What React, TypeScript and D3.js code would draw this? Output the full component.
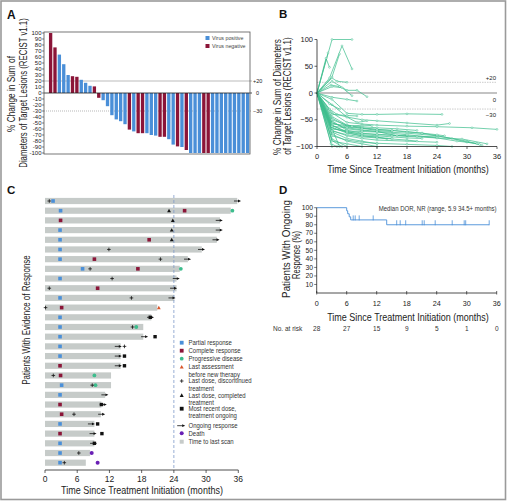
import React from "react";
import * as d3 from "d3";

const FONT = "'Liberation Sans', Arial, sans-serif";
const BLUE = "#4a8fd8";
const RED = "#8b1538";
const GREEN = "#3dbd8d";
const ORANGE = "#d9572b";
const PURPLE = "#6a1fb5";
const BARGRAY = "#c6cbc9";
const TXT = "#222";

// ---------- Panel A: waterfall ----------
const waterfallValues = [100, 76, 64, 48, 30, 28, 27, 22, 17, 12, 11, -8, -12, -22, -37, -44, -47, -52, -61, -64, -67, -67, -67, -70, -71, -73, -73, -77, -86, -89, -90, -95, -100, -100, -100, -100, -100, -100, -100, -100, -100, -100, -100, -100, -100, -100];
const waterfallVirus = ["n", "n", "p", "p", "p", "n", "n", "p", "p", "p", "n", "n", "p", "p", "p", "p", "p", "p", "n", "p", "n", "n", "p", "p", "p", "n", "n", "p", "p", "n", "p", "n", "p", "p", "p", "n", "n", "p", "p", "p", "p", "p", "p", "p", "p", "p"];
const waterfallTicks = d3.range(-100, 101, 10);

// ---------- Panel B: spider plot ----------
const spiderLines: [number, number][][] = [
  [[0, 0], [3, 100], [7, 100]],
  [[0, 0], [2.5, 28], [5, 88], [7, 45]],
  [[0, 0], [2.2, 75]],
  [[0, 0], [1.8, 65], [2.5, 48]],
  [[0, 0], [3, 30], [4.5, 73]],
  [[0, 0], [3, 28], [4, 22], [6, 20]],
  [[0, 0], [3, 22], [6, 5], [8, 5], [10, -7]],
  [[0, 0], [2.8, 15], [4.5, 12]],
  [[0, 0], [3, 12], [5, 10], [7, -5]],
  [[0, 0], [3, -8], [6, -12], [8, -15]],
  [[0, 0], [3, -12], [6, -38], [9, -40], [12, -40], [18, -39], [25, -40]],
  [[0, 0], [3, -22], [6, -45], [9, -50], [12, -52], [18, -56], [24, -60], [26.5, -57]],
  [[0, 0], [3, -37], [6, -55], [9, -58], [12, -60], [18, -62], [24, -63], [31, -65], [36, -68]],
  [[0, 0], [3, -44], [6, -60], [9, -63], [12, -65], [16, -67], [20, -70]],
  [[0, 0], [3, -47], [6, -62], [9, -66], [12, -70], [15, -72]],
  [[0, 0], [3, -52], [6, -70], [9, -75], [12, -78], [18, -80], [24, -82]],
  [[0, 0], [3, -61], [6, -72], [9, -78], [12, -80], [15, -82], [18, -84], [21, -85]],
  [[0, 0], [3, -64], [6, -75], [9, -80], [12, -82], [14, -86]],
  [[0, 0], [3, -55], [6, -67], [9, -70], [12, -72], [18, -75], [24, -80], [30, -90], [33, -98]],
  [[0, 0], [3, -50], [6, -60], [9, -65], [12, -68], [15, -70], [18, -72], [21, -75], [24, -80], [27, -85], [30, -92], [32.5, -96]],
  [[0, 0], [3, -70], [6, -80], [9, -85], [12, -88], [18, -90], [24, -92]],
  [[0, 0], [3, -73], [6, -85], [9, -90], [12, -95]],
  [[0, 0], [3, -60], [6, -74], [9, -80], [12, -83], [15, -86], [18, -88], [20, -90]],
  [[0, 0], [3, -77], [6, -90], [9, -95], [12, -100]],
  [[0, 0], [3, -86], [6, -100]],
  [[0, 0], [3, -89], [5, -100]],
  [[0, 0], [3, -90], [6, -95], [9, -100]],
  [[0, 0], [3, -100]],
  [[0, 0], [4.5, -100]],
  [[0, 0], [3, -80], [6, -88], [9, -92], [12, -94], [18, -96], [24, -98], [27, -100]],
  [[0, 0], [3, -56], [6, -64], [9, -66], [12, -68], [15, -70], [18, -73], [21, -75], [24, -78], [25.5, -80]],
  [[0, 0], [3, -58], [5, -60], [7, -62], [9, -60], [11, -61]],
  [[0, 0], [2.5, -30], [4, -40], [6, -45], [8, -55], [10, -52]],
  [[0, 0], [3, -66], [6, -73], [9, -76], [12, -77], [15, -79], [18, -80]],
  [[0, 0], [3, -67], [6, -71], [9, -72], [12, -73], [18, -78], [24, -84], [28, -90], [32, -94]],
  [[0, 0], [3, -71], [6, -78], [9, -82], [12, -84], [15, -85]],
  [[0, 0], [2.8, -95], [4, -100]],
  [[0, 0], [3, -40], [6, -42], [8, -43]],
  [[0, 0], [3, -62], [6, -65], [9, -69], [12, -72], [16, -80], [20, -82], [24, -84], [29, -86], [34, -95]],
  [[0, 0], [2.5, -20], [4.5, -30]],
];
const spiderYTicks = [100, 50, 0, -50, -100];
const monthTicks = [0, 6, 12, 18, 24, 30, 36];

// ---------- Panel C: swimmer plot ----------
const swimEnd = [35.8, 34.6, 32.6, 32.6, 32.0, 29.2, 26.6, 25.1, 24.5, 24.5, 24.1, 20.9, 19.8, 18.3, 18.3, 14.1, 14.1, 14.1, 12.3, 12.3, 11.2, 10.5, 10.4, 9.2, 9.2, 9.2, 8.4, 7.6];
const partialResponse: [number, number][] = [[1, 1.5], [2, 2.9], [4, 2.8], [5, 2.8], [6, 2.8], [7, 2.8], [8, 7.0], [9, 2.8], [11, 2.8], [13, 2.8], [14, 2.8], [15, 2.8], [16, 2.8], [17, 2.8], [20, 3.1], [21, 2.8], [24, 2.8], [26, 2.8], [27, 2.8], [28, 2.8]];
const completeResponse: [number, number][] = [[2, 26.0], [3, 2.9], [5, 19.4], [7, 9.2], [8, 17.3], [10, 9.8], [12, 3.1], [18, 2.8], [19, 2.9], [22, 2.8], [23, 3.1], [25, 2.8]];
const progressiveDisease: [number, number][] = [[2, 34.9], [8, 25.3], [14, 17.0], [19, 9.2], [20, 9.4]];
const lastAssessment: [number, number][] = [[12, 21.2]];
const lastDoseDiscontinued: [number, number][] = [[1, 0.8], [6, 11.9], [7, 21.5], [8, 8.4], [9, 12.5], [10, 0.8], [11, 16.1], [12, 0.1], [14, 16.3], [16, 14.8], [19, 1.55], [20, 8.8], [23, 5.4], [27, 6.3], [28, 3.6]];
const lastDoseCompleted: [number, number][] = [[2, 23.1], [3, 23.8], [4, 23.6], [5, 23.6]];
const mostRecentDose: [number, number][] = [[13, 19.6], [15, 20.5], [17, 14.8], [18, 14.8], [22, 10.5], [24, 9.8], [25, 10.6], [26, 9.2]];
const ongoingResponse: [number, number][] = [[1, 36.5], [3, 33.1], [4, 33.1], [5, 32.5], [6, 29.8], [7, 27.2], [9, 25.1], [10, 24.6], [11, 24.3], [13, 20.3], [15, 19.2], [16, 14.3], [17, 14.3], [18, 14.3], [21, 11.8], [22, 11.5], [23, 11.2], [24, 9.3], [25, 9.6], [26, 9.7]];
const deaths: [number, number][] = [[27, 8.7], [28, 9.8]];

// ---------- Panel D: Kaplan-Meier ----------
const kmTimes = [0, 6.0, 6.2, 6.5, 6.8, 14.0, 34.5];
const kmSurv = [100, 96.4, 92.9, 89.3, 85.7, 80.0, 80.0];
const kmCensorTimes = [7.3, 7.7, 8.5, 11.3, 16.0, 16.7, 17.8, 21.1, 21.5, 23.7, 27.1, 29.5, 29.8, 34.5];
const kmYTicks = [10, 20, 30, 40, 50, 60, 70, 80, 90, 100];
const atRisk = [28, 27, 15, 9, 5, 1, 0];

let measureCtx: CanvasRenderingContext2D | null = null;
function textWidth(s: string, size: number): number {
  if (!measureCtx) measureCtx = document.createElement("canvas").getContext("2d");
  if (!measureCtx) return s.length * size * 0.5;
  measureCtx.font = `${size}px "Liberation Sans", Arial, sans-serif`;
  return measureCtx.measureText(s).width;
}

function FitText({ x, y, rot = 0, width, size, anchor = "middle", fill = TXT, text }: { x: number; y: number; rot?: number; width: number; size: number; anchor?: string; fill?: string; text: string }) {
  const sx = Math.min(1, width / textWidth(text, size));
  return (
    <text transform={`translate(${x},${y}) rotate(${rot}) scale(${sx.toFixed(3)},1)`} fontSize={size} textAnchor={anchor as any} fill={fill}>
      {text}
    </text>
  );
}

function Plus({ x, y }: { x: number; y: number }) {
  return (
    <g stroke="#111" strokeWidth={0.8}>
      <line x1={x - 1.8} x2={x + 1.8} y1={y} y2={y} />
      <line x1={x} x2={x} y1={y - 1.8} y2={y + 1.8} />
    </g>
  );
}
function Tri({ x, y, fill, s = 2.2 }: { x: number; y: number; fill: string; s?: number }) {
  return <path d={`M${x},${y - s}L${x + s},${y + s * 0.8}L${x - s},${y + s * 0.8}Z`} fill={fill} />;
}
function Sq({ x, y, fill, s = 3.6 }: { x: number; y: number; fill: string; s?: number }) {
  return <rect x={x - s / 2} y={y - s / 2} width={s} height={s} fill={fill} />;
}
function Arrow({ x, y, len = 7 }: { x: number; y: number; len?: number }) {
  return (
    <g>
      <line x1={x - len} x2={x - 2.5} y1={y} y2={y} stroke="#111" strokeWidth={0.8} />
      <path d={`M${x},${y}L${x - 3},${y - 1.4}L${x - 3},${y + 1.4}Z`} fill="#111" />
    </g>
  );
}

export default function App() {
  const xA = d3.scaleBand<number>().domain(d3.range(waterfallValues.length)).range([48.6, 249.6]).paddingInner(0.24).paddingOuter(0.08);
  const yA = d3.scaleLinear().domain([-100, 100]).range([153, 33]);

  const xB = d3.scaleLinear().domain([0, 36]).range([317, 497]);
  const yB = d3.scaleLinear().domain([-100, 100]).range([146.5, 39.5]);
  const lineB = d3.line<[number, number]>().x((d) => xB(d[0])).y((d) => yB(d[1]));

  const xC = d3.scaleLinear().domain([0, 36]).range([45, 238.3]);
  const yC = d3.scalePoint<number>().domain(d3.range(1, 29)).range([201, 462.7]);
  const barH = 6.2;

  const xD = d3.scaleLinear().domain([0, 36]).range([316.7, 496.7]);
  const yD = d3.scaleLinear().domain([0, 100]).range([293, 207.7]);
  const kmPts: [number, number][] = kmTimes.map((t, i) => [t, kmSurv[i]]);
  const kmLine = d3.line<[number, number]>().x((d) => xD(d[0])).y((d) => yD(d[1])).curve(d3.curveStepAfter);
  const survAt = (t: number) => {
    let s = kmSurv[0];
    kmTimes.forEach((tt, i) => { if (tt <= t) s = kmSurv[i]; });
    return s;
  };

  const legendC: { label: string[]; y: number; kind: string }[] = [
    { label: ["Partial response"], y: 342.7, kind: "pr" },
    { label: ["Complete response"], y: 350.7, kind: "cr" },
    { label: ["Progressive disease"], y: 358.7, kind: "pd" },
    { label: ["Last assessment", "before new therapy"], y: 367, kind: "la" },
    { label: ["Last dose, discontinued", "treatment"], y: 381, kind: "ld" },
    { label: ["Last dose, completed", "treatment"], y: 395.3, kind: "lc" },
    { label: ["Most recent dose,", "treatment ongoing"], y: 408.7, kind: "mr" },
    { label: ["Ongoing  response"], y: 425.7, kind: "or" },
    { label: ["Death"], y: 433.3, kind: "de" },
    { label: ["Time to last scan"], y: 441.7, kind: "ts" },
  ];
  const legendSymbol = (kind: string, x: number, y: number) => {
    switch (kind) {
      case "pr": return <Sq x={x} y={y} fill={BLUE} s={3.8} />;
      case "cr": return <Sq x={x} y={y} fill={RED} s={3.8} />;
      case "pd": return <circle cx={x} cy={y} r={1.9} fill={GREEN} />;
      case "la": return <Tri x={x} y={y} fill={ORANGE} s={2} />;
      case "ld": return <Plus x={x} y={y} />;
      case "lc": return <Tri x={x} y={y} fill="#111" s={2} />;
      case "mr": return <Sq x={x} y={y} fill="#111" s={3.8} />;
      case "or": return <Arrow x={x + 3.5} y={y} len={8} />;
      case "de": return <circle cx={x} cy={y} r={2} fill={PURPLE} />;
      default: return <Sq x={x} y={y} fill={BARGRAY} s={4} />;
    }
  };

  return (
    <div style={{ position: "absolute", left: 0, top: 0 }}>
      <svg width={507} height={503} style={{ display: "block", background: "#fff" }} fontFamily={FONT}>
        <rect x={1} y={1} width={504.5} height={498.5} fill="none" stroke="#9a9a9a" strokeWidth={1.6} />

        <text x={7} y={18.5} fontWeight="bold" fontSize={12} fill="#111">A</text>
        <text x={279} y={17.5} fontWeight="bold" fontSize={11.5} fill="#111">B</text>
        <text x={7} y={193.5} fontWeight="bold" fontSize={11.5} fill="#111">C</text>
        <text x={279} y={194} fontWeight="bold" fontSize={11.5} fill="#111">D</text>

        {/* ===== Panel A ===== */}
        <g>
          <line x1={44} x2={252} y1={yA(20)} y2={yA(20)} stroke="#aaa" strokeWidth={0.8} />
          <line x1={44} x2={252} y1={yA(-30)} y2={yA(-30)} stroke="#999" strokeWidth={0.7} strokeDasharray="1,1" />
          {waterfallValues.map((v, i) => (
            <rect key={i} x={xA(i)} width={xA.bandwidth()} y={yA(Math.max(0, v))} height={Math.abs(yA(v) - yA(0))} fill={waterfallVirus[i] === "p" ? BLUE : RED} />
          ))}
          <line x1={44} x2={252} y1={yA(0)} y2={yA(0)} stroke="#222" strokeWidth={0.8} />
          <rect x={44} y={32} width={206} height={122} fill="none" stroke="#555" strokeWidth={0.8} />
          {waterfallTicks.map((t) => (
            <g key={t}>
              <line x1={42} x2={44} y1={yA(t)} y2={yA(t)} stroke="#333" strokeWidth={0.6} />
              <text x={41.5} y={yA(t) + 2} fontSize={6} textAnchor="end" fill={TXT}>{t}</text>
            </g>
          ))}
          <text x={253} y={yA(20) + 2} fontSize={5.5} fill={TXT}>+20</text>
          <text x={256} y={yA(0) + 2} fontSize={5.5} fill={TXT}>0</text>
          <text x={253} y={yA(-30) + 2} fontSize={5.5} fill={TXT}>−30</text>
          <rect x={205.5} y={36} width={4} height={4} fill={BLUE} />
          <text x={212} y={40} fontSize={5.3} fill="#444">Virus positive</text>
          <rect x={205.5} y={44} width={4} height={4} fill={RED} />
          <text x={212} y={48} fontSize={5.3} fill="#444">Virus negative</text>
          <FitText x={14.5} y={94} rot={-90} size={10} width={76} text="% Change in Sum of" />
          <FitText x={27} y={93} rot={-90} size={10} width={150} text="Diameters of Target Lesions (RECIST v1.1)" />
        </g>

        {/* ===== Panel B ===== */}
        <g>
          <line x1={xB(0)} x2={xB(36)} y1={yB(20)} y2={yB(20)} stroke="#aaa" strokeWidth={0.6} strokeDasharray="1.5,1" />
          <line x1={xB(0)} x2={xB(36)} y1={yB(-30)} y2={yB(-30)} stroke="#aaa" strokeWidth={0.6} strokeDasharray="1.5,1" />
          <line x1={xB(0)} x2={xB(36)} y1={yB(0)} y2={yB(0)} stroke="#555" strokeWidth={0.7} />
          {spiderLines.map((pts, i) => (
            <g key={i}>
              <path d={lineB(pts) || ""} fill="none" stroke={GREEN} strokeWidth={0.8} opacity={0.9} />
              {pts.slice(1).map((p, j) => (
                <circle key={j} cx={xB(p[0])} cy={yB(p[1])} r={0.9} fill="#fff" stroke={GREEN} strokeWidth={0.5} />
              ))}
            </g>
          ))}
          <line x1={xB(0)} x2={xB(0)} y1={yB(100)} y2={yB(-100)} stroke="#222" strokeWidth={0.8} />
          <line x1={xB(0)} x2={xB(36)} y1={yB(-100)} y2={yB(-100)} stroke="#222" strokeWidth={0.8} />
          {spiderYTicks.map((t) => (
            <g key={t}>
              <line x1={xB(0) - 2.5} x2={xB(0)} y1={yB(t)} y2={yB(t)} stroke="#222" strokeWidth={0.7} />
              <text x={xB(0) - 4} y={yB(t) + 2.5} fontSize={7.5} textAnchor="end" fill={TXT}>{t < 0 ? `−${-t}` : t}</text>
            </g>
          ))}
          {monthTicks.map((t) => (
            <g key={t}>
              <line x1={xB(t)} x2={xB(t)} y1={yB(-100)} y2={yB(-100) + 2.5} stroke="#222" strokeWidth={0.7} />
              <text x={xB(t)} y={158.5} fontSize={7.5} textAnchor="middle" fill={TXT}>{t}</text>
            </g>
          ))}
          <text x={496} y={80} fontSize={6} textAnchor="end" fill={TXT}>+20</text>
          <text x={496} y={101.5} fontSize={6} textAnchor="end" fill={TXT}>0</text>
          <text x={496} y={117} fontSize={6} textAnchor="end" fill={TXT}>−30</text>
          <FitText x={408} y={172.5} size={10.5} width={162} text="Time Since Treatment Initiation (months)" />
          <FitText x={280.5} y={97} rot={-90} size={10} width={116} text="% Change in Sum of Diameters" />
          <FitText x={291} y={96} rot={-90} size={10} width={118} text="of Target Lesions (RECIST v1.1)" />
        </g>

        {/* ===== Panel C ===== */}
        <g>
          {swimEnd.map((e, i) => (
            <rect key={i} x={xC(0)} y={(yC(i + 1) as number) - barH / 2} width={xC(e) - xC(0)} height={barH} fill={BARGRAY} />
          ))}
          <line x1={xC(24)} x2={xC(24)} y1={195} y2={470} stroke="#7d9bc9" strokeWidth={0.8} strokeDasharray="3,2" />
          {ongoingResponse.map(([r, m], i) => <Arrow key={"or" + i} x={xC(m)} y={yC(r) as number} />)}
          {partialResponse.map(([r, m], i) => <Sq key={"pr" + i} x={xC(m)} y={yC(r) as number} fill={BLUE} />)}
          {completeResponse.map(([r, m], i) => <Sq key={"cr" + i} x={xC(m)} y={yC(r) as number} fill={RED} />)}
          {progressiveDisease.map(([r, m], i) => <circle key={"pd" + i} cx={xC(m)} cy={yC(r) as number} r={1.9} fill={GREEN} />)}
          {lastAssessment.map(([r, m], i) => <Tri key={"la" + i} x={xC(m)} y={yC(r) as number} fill={ORANGE} s={1.9} />)}
          {lastDoseDiscontinued.map(([r, m], i) => <Plus key={"ld" + i} x={xC(m)} y={yC(r) as number} />)}
          {lastDoseCompleted.map(([r, m], i) => <Tri key={"lc" + i} x={xC(m)} y={yC(r) as number} fill="#111" s={1.9} />)}
          {mostRecentDose.map(([r, m], i) => <Sq key={"mr" + i} x={xC(m)} y={yC(r) as number} fill="#111" s={3.4} />)}
          {deaths.map(([r, m], i) => <circle key={"de" + i} cx={xC(m)} cy={yC(r) as number} r={2} fill={PURPLE} />)}

          <line x1={xC(0)} x2={xC(36)} y1={470} y2={470} stroke="#222" strokeWidth={0.8} />
          {monthTicks.map((t) => (
            <g key={t}>
              <line x1={xC(t)} x2={xC(t)} y1={470} y2={473} stroke="#222" strokeWidth={0.7} />
              <text x={xC(t)} y={482} fontSize={8.5} textAnchor="middle" fill={TXT}>{t}</text>
            </g>
          ))}
          <FitText x={142} y={494} size={11} width={162} text="Time Since Treatment Initiation (months)" />
          <FitText x={29.5} y={320} rot={-90} size={10.5} width={130} text="Patients With Evidence of Response" />

          {legendC.map((it) => (
            <g key={it.kind}>
              {legendSymbol(it.kind, 181.7, it.y)}
              {it.label.map((l, k) => (
                <text key={k} transform={`translate(188.5,${it.y + 2.4 + k * 7.2}) scale(0.86,1)`} fontSize={7} fill="#333">{l}</text>
              ))}
            </g>
          ))}
        </g>

        {/* ===== Panel D ===== */}
        <g>
          <path d={kmLine(kmPts) || ""} fill="none" stroke={BLUE} strokeWidth={0.9} />
          {kmCensorTimes.map((t, i) => (
            <line key={i} x1={xD(t)} x2={xD(t)} y1={yD(survAt(t)) - 4.5} y2={yD(survAt(t)) + 0.5} stroke={BLUE} strokeWidth={0.8} />
          ))}
          <line x1={xD(0)} x2={xD(0)} y1={yD(100)} y2={yD(0)} stroke="#222" strokeWidth={0.8} />
          <line x1={xD(0)} x2={xD(36)} y1={yD(0)} y2={yD(0)} stroke="#222" strokeWidth={0.8} />
          {kmYTicks.map((t) => (
            <g key={t}>
              <line x1={xD(0) - 2.5} x2={xD(0)} y1={yD(t)} y2={yD(t)} stroke="#222" strokeWidth={0.6} />
              <text x={313} y={yD(t) + 2.2} fontSize={6.8} textAnchor="end" fill={TXT}>{t}</text>
            </g>
          ))}
          {monthTicks.map((t) => (
            <g key={t}>
              <line x1={xD(t)} x2={xD(t)} y1={yD(0) - 2} y2={yD(0) + 1.5} stroke="#222" strokeWidth={0.7} />
              <text x={xD(t)} y={305.5} fontSize={7.2} textAnchor="middle" fill={TXT}>{t}</text>
            </g>
          ))}
          <FitText x={408} y={320.5} size={10.5} width={162} text="Time Since Treatment Initiation (months)" />
          <FitText x={496.5} y={211} size={6.5} width={118} anchor="end" fill="#333" text="Median DOR, NR (range, 5.9 34.5+ months)" />
          <FitText x={289.5} y={249} rot={-90} size={10} width={98} text="Patients With Ongoing" />
          <FitText x={300} y={255} rot={-90} size={10} width={48} text="Response (%)" />
          <text x={273} y={331} fontSize={6.5} fill="#333">No. at risk</text>
          {atRisk.map((n, i) => (
            <text key={i} x={xD(monthTicks[i])} y={330.5} fontSize={6.5} textAnchor="middle" fill="#333">{n}</text>
          ))}
        </g>
      </svg>
    </div>
  );
}
